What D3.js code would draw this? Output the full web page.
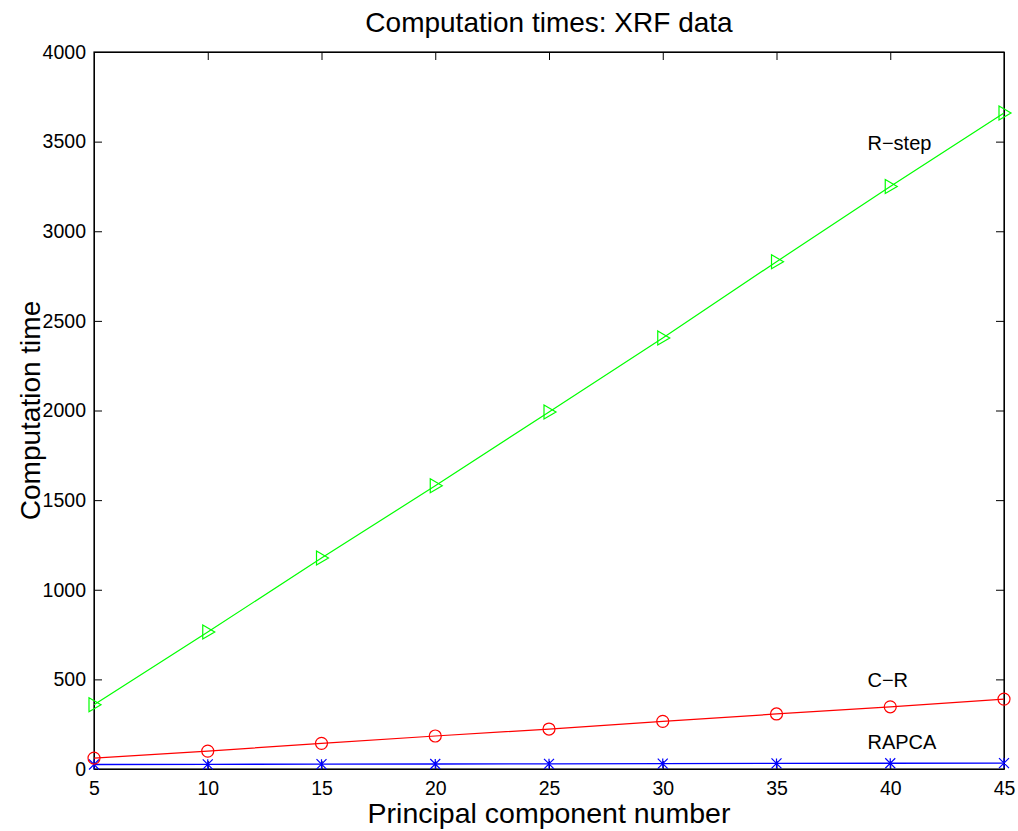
<!DOCTYPE html>
<html><head><meta charset="utf-8">
<script src="https://cdn.jsdelivr.net/npm/d3@7"></script>
<style>body{margin:0;background:#fff}svg{display:block}text{font-family:"Liberation Sans",Arial,sans-serif;fill:#000}</style>
</head><body>
<script>
const components = [5,10,15,20,25,30,35,40,45];
const rstep = [358,764,1177,1580,1992,2405,2830,3250,3660];
const cr = [61,100,143,184,223,266,307,347,390];
const rapca = [25,26,27,28,29,30,31,32,33];
const xTicks = [5,10,15,20,25,30,35,40,45];
const yTicks = [0,500,1000,1500,2000,2500,3000,3500,4000];
const seriesLabels = [
  {text:"R\u2212step", x:39.0, y:3453},
  {text:"C\u2212R", x:39.0, y:458},
  {text:"RAPCA", x:39.0, y:112}
];

const W=1018,H=831;
const m={l:94,r:14,t:52,b:62};
const svg=d3.select("body").append("svg").attr("width",W).attr("height",H);
const x=d3.scaleLinear().domain([5,45]).range([m.l,W-m.r]);
const y=d3.scaleLinear().domain([0,4000]).range([H-m.b,m.t]);
const pw=W-m.r-m.l, ph=H-m.b-m.t;
const fmt=d3.format("d");

const ax=svg.append("g");
ax.append("g").attr("transform",`translate(0,${H-m.b})`).call(d3.axisBottom(x).tickValues(xTicks).tickFormat(fmt).tickSizeInner(-8).tickSizeOuter(0).tickPadding(12));
ax.append("g").attr("transform",`translate(0,${m.t})`).call(d3.axisTop(x).tickValues(xTicks).tickSizeInner(-8).tickSizeOuter(0).tickFormat(""));
ax.append("g").attr("transform",`translate(${m.l},0)`).call(d3.axisLeft(y).tickValues(yTicks).tickFormat(fmt).tickSizeInner(-8).tickSizeOuter(0).tickPadding(8));
ax.append("g").attr("transform",`translate(${W-m.r},0)`).call(d3.axisRight(y).tickValues(yTicks).tickSizeInner(-8).tickSizeOuter(0).tickFormat(""));
ax.selectAll("g").attr("font-size",null).attr("font-family",null);
svg.selectAll(".domain").attr("stroke","#000");
svg.selectAll(".tick line").attr("stroke","#000");
svg.selectAll(".tick text").style("font-size","19.5px").style("font-family","Liberation Sans, Arial, sans-serif").attr("fill","#000");
svg.append("rect").attr("x",m.l).attr("y",m.t).attr("width",pw).attr("height",ph).attr("fill","none").attr("stroke","#000").attr("stroke-width",1.2);

const line=d3.line().x((d,i)=>x(components[i])).y(d=>y(d));
svg.append("path").datum(rapca).attr("d",line).attr("fill","none").attr("stroke","#0000ff").attr("stroke-width",1.3);
const sa=svg.append("g");
rapca.forEach((v,i)=>{
  const cx=x(components[i]),cy=y(v),s=5;
  sa.append("path").attr("d",`M${cx-s},${cy-s}L${cx+s},${cy+s}M${cx-s},${cy+s}L${cx+s},${cy-s}M${cx},${cy-s}L${cx},${cy+s}`).attr("stroke","#0000ff").attr("stroke-width",1.2);
});
svg.append("path").datum(cr).attr("d",line).attr("fill","none").attr("stroke","#ff0000").attr("stroke-width",1.2);
svg.append("g").selectAll("circle").data(cr).join("circle")
  .attr("cx",(d,i)=>x(components[i])).attr("cy",d=>y(d)).attr("r",6)
  .attr("fill","none").attr("stroke","#ff0000").attr("stroke-width",1.2);
svg.append("path").datum(rstep).attr("d",line).attr("fill","none").attr("stroke","#00ff00").attr("stroke-width",1.2);
svg.append("g").selectAll("path").data(rstep).join("path")
  .attr("d",(d,i)=>{const cx=x(components[i]),cy=y(d);return `M${cx-5},${cy-7}L${cx+7},${cy}L${cx-5},${cy+7}Z`;})
  .attr("fill","none").attr("stroke","#00ff00").attr("stroke-width",1.2);

svg.append("g").selectAll("text").data(seriesLabels).join("text")
  .attr("x",d=>x(d.x)).attr("y",d=>y(d.y)).style("font-size","20px").text(d=>d.text);

svg.append("text").attr("x",(m.l+W-m.r)/2).attr("y",32).attr("text-anchor","middle").style("font-size","28px").text("Computation times: XRF data");
svg.append("text").attr("x",(m.l+W-m.r)/2).attr("y",823).attr("text-anchor","middle").style("font-size","28.5px").text("Principal component number");
svg.append("text").attr("transform",`translate(40,${(m.t+H-m.b)/2}) rotate(-90)`).attr("text-anchor","middle").style("font-size","28px").text("Computation time");
</script>
</body></html>
